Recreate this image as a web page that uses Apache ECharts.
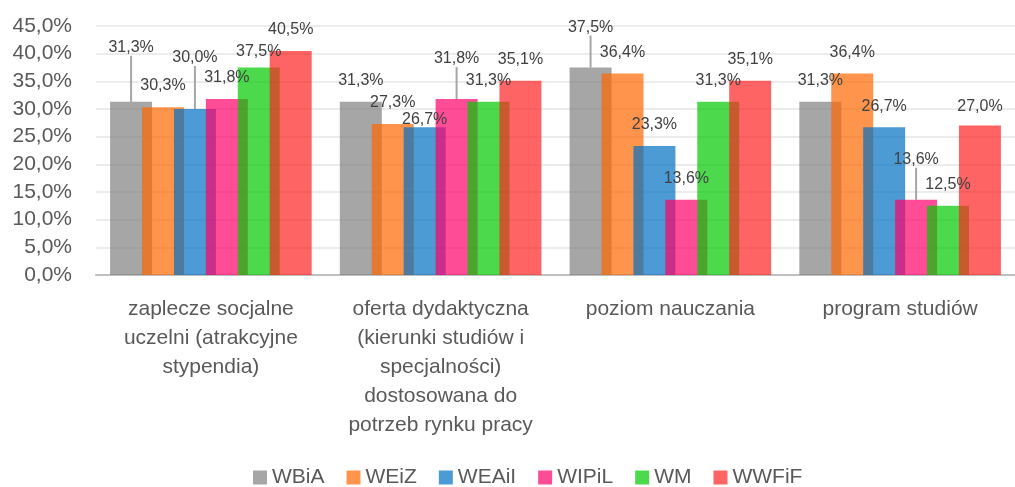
<!DOCTYPE html>
<html>
<head>
<meta charset="utf-8">
<script src="https://cdn.jsdelivr.net/npm/echarts@6/dist/echarts.min.js"></script>
<style>
  html, body { margin: 0; padding: 0; background: #fff; }
  #chart-container { width: 1015px; height: 487px; }
</style>
</head>
<body>
<div id="chart-container"></div>
<script>
// categories (wrapped like in the original)
var categories = [
  "zaplecze socjalne\nuczelni (atrakcyjne\nstypendia)",
  "oferta dydaktyczna\n(kierunki studiów i\nspecjalności)\ndostosowana do\npotrzeb rynku pracy",
  "poziom nauczania",
  "program studiów",
];

var seriesNames = ["WBiA", "WEiZ", "WEAiI", "WIPiL", "WM", "WWFiF"];

// values in %
var wbia = [31.3, 31.3, 37.5, 31.3];
var weiz = [30.3, 27.3, 36.4, 36.4];
var weaii = [30.0, 26.7, 23.3, 26.7];
var wipil = [31.8, 31.8, 13.6, 13.6];
var wm = [37.5, 31.3, 31.3, 12.5];
var wwfif = [40.5, 35.1, 35.1, 27.0];

var yTicks = [0, 5, 10, 15, 20, 25, 30, 35, 40, 45];

var values = [wbia, weiz, weaii, wipil, wm, wwfif];
// semi-transparent fills, so overlapping bars blend like in the original
var colors = [
  "rgba(128,128,128,0.7)",
  "rgba(255,104,0,0.7)",
  "rgba(0,112,195,0.7)",
  "rgba(255,0,105,0.7)",
  "rgba(0,201,0,0.7)",
  "rgba(255,34,34,0.7)",
];

// label tweaks (px, + = down) and leader lines, like the moved labels in Excel
var labelShift = [
  [-33, 0, -19, 0],
  [-1, 0, 0, 0],
  [-30, 13, 0, 0],
  [0, -19, 0, -19],
  [5, 0, 0, 0],
  [0, 0, 0, 2],
];
var leader = [
  [1, 0, 1, 0],
  [0, 0, 0, 0],
  [1, 0, 0, 0],
  [0, 1, 0, 1],
  [0, 0, 0, 0],
  [0, 0, 0, 0],
];

var FONT = "Liberation Sans";

function pct(v) {
  return v.toFixed(1).replace(".", ",") + "%";
}

var series = seriesNames.map(function (name, s) {
  return {
    name: name,
    type: "bar",
    barWidth: 42,
    barGap: "-24%",
    itemStyle: { color: colors[s] },
    label: {
      show: true,
      position: "top",
      fontFamily: FONT,
      fontSize: 16,
      color: "#404040",
      formatter: function (p) {
        return pct(p.value);
      },
    },
    labelLine: {
      show: false,
      lineStyle: { color: "#A6A6A6", width: 2 },
    },
    labelLayout: function (p) {
      return {
        x: p.rect.x + p.rect.width / 2,
        y: p.rect.y - 21 + labelShift[p.seriesIndex][p.dataIndex],
        align: "center",
        verticalAlign: "middle",
      };
    },
    data: values[s].map(function (v, i) {
      return leader[s][i] ? { value: v, labelLine: { show: true } } : v;
    }),
  };
});

var myChart = echarts.init(document.getElementById("chart-container"), null, {
  renderer: "canvas",
});

var option = {
  animation: false,
  backgroundColor: "#fff",
  textStyle: { fontFamily: FONT },
  grid: { left: 96, top: 26, width: 928, height: 249 },
  legend: {
    left: 253,
    top: 467,
    padding: 0,
    icon: "rect",
    itemWidth: 14,
    itemHeight: 14,
    itemGap: 22,
    textStyle: { fontFamily: FONT, fontSize: 21, color: "#595959" },
    data: seriesNames,
  },
  xAxis: {
    type: "category",
    data: categories,
    axisTick: { show: false },
    axisLine: { lineStyle: { color: "#BFBFBF", width: 2 } },
    axisLabel: {
      interval: 0,
      margin: 20,
      fontFamily: FONT,
      fontSize: 21,
      lineHeight: 29,
      color: "#595959",
    },
  },
  yAxis: {
    type: "value",
    min: yTicks[0],
    max: yTicks[yTicks.length - 1],
    interval: yTicks[1] - yTicks[0],
    axisLine: { show: false },
    axisTick: { show: false },
    splitLine: { lineStyle: { color: "#E6E6E6", width: 1.5 } },
    axisLabel: {
      margin: 24,
      fontFamily: FONT,
      fontSize: 21,
      color: "#595959",
      formatter: pct,
    },
  },
  series: series,
};

myChart.setOption(option);
window.addEventListener("resize", myChart.resize);
</script>
</body>
</html>
